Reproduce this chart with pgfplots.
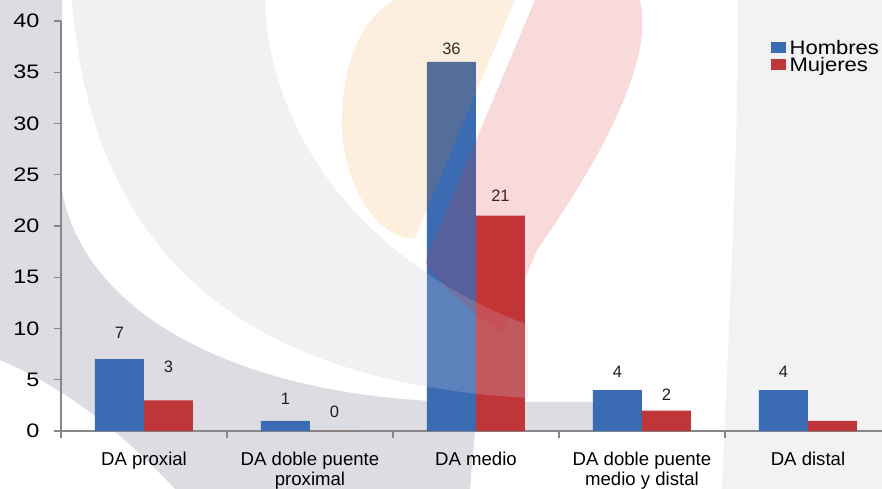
\documentclass[border=0pt]{standalone}
\usepackage{pgfplots}
\pgfplotsset{compat=1.18}
\usepackage{pgfplotstable}
\usepackage{fontspec}
\setmainfont{Liberation Sans}
\newfontfamily\tickfont{Liberation Sans}[FakeStretch=1.2]
\newfontfamily\legfont{Liberation Sans}[FakeStretch=1.13]

\definecolor{hblue}{HTML}{3A6BB3}
\definecolor{mred}{HTML}{BF3538}
\definecolor{axisgray}{HTML}{878787}
\definecolor{wmgray}{HTML}{DDDCE3}
\definecolor{wmlight}{HTML}{F2F2F5}
\definecolor{wmveil}{HTML}{C8C8D4}
\definecolor{wmorange}{HTML}{F1850C}
\definecolor{wmred}{HTML}{DA3030}

% x, value, label text, baseline offset of the label above the bar (pt)
\pgfplotstableread{
x y lab dy
0 7 7 21
1 1 1 16
2 36 36 7
3 4 4 12.5
4 4 4 12.5
}\hombres
\pgfplotstableread{
x y lab dy
0 3 3 28
1 0 0 13.5
2 21 21 14
3 2 2 10.5
4 1 {} 0
}\mujeres

\begin{document}
\begin{tikzpicture}
\useasboundingbox (-61pt,-58pt) rectangle (821pt,431pt);

% faint logo shapes in the background (pixel-like coordinates, y downwards)
\begin{scope}[shift={(-61pt,431pt)}, x=1pt, y=-1pt]
  \fill[wmlight] (738,0) -- (882,0) -- (882,489) -- (722,489) .. controls (730,300) and (738,150) .. (738,0) -- cycle;
  \fill[wmgray] (0,0) -- (62,0) -- (62,190) .. controls (85,320) and (250,398) .. (460,402)
        -- (640,402) -- (640,431) -- (475,431) -- (470,489) -- (175,489)
        .. controls (120,430) and (60,385) .. (0,360) -- cycle;
\end{scope}

\begin{axis}[
  at={(0pt,0pt)}, anchor=south west,
  scale only axis, width=821pt, height=410pt,
  xmin=-0.5, xmax=4.446, ymin=0, ymax=40,
  ybar=0pt, bar width=49pt,
  axis lines*=left,
  axis line style={draw=axisgray, line width=1.6pt},
  tick align=outside,
  major tick length=7pt,
  tick style={draw=axisgray, line width=1.2pt},
  xtick={-0.5,0.5,...,3.5},
  xticklabels={},
  extra x ticks={0,1,2,3,4},
  extra x tick labels={DA proxial, DA doble puente\\proximal, DA medio, DA doble puente\\medio y distal, DA distal},
  extra x tick style={major tick length=0pt,
    ticklabel style={font=\fontsize{18.6}{20}\selectfont, align=center, text=black, yshift=-17pt}},
  ytick={0,5,...,40},
  ytick pos=left,
  yticklabel style={font=\tickfont\fontsize{19.5}{19.5}\selectfont, text=black, xshift=-11pt},
  /pgf/number format/assume math mode=true,
  legend style={at={(0.861,0.965)}, anchor=north west, draw=none, fill=none,
    font=\legfont\fontsize{19.5}{15}\selectfont, row sep=0pt,
    nodes={inner sep=0.5pt, text height=16pt, text depth=0pt},
    /tikz/every odd column/.style={column sep=3pt}},
  legend cell align=left,
  legend image code/.code={\fill[#1] (0pt,-7pt) rectangle (15pt,4pt);},
]
\addplot[draw=none, fill=hblue,
  nodes near coords, point meta=explicit symbolic,
  visualization depends on={\thisrow{dy} \as \dy},
  every node near coord/.append style={anchor=base, inner sep=0pt, yshift=\dy pt,
    font=\fontsize{16.5}{16.5}\selectfont, text=black!88}]
  table[x=x, y=y, meta=lab] {\hombres};
\addplot[draw=none, fill=mred,
  nodes near coords, point meta=explicit symbolic,
  visualization depends on={\thisrow{dy} \as \dy},
  every node near coord/.append style={anchor=base, inner sep=0pt, yshift=\dy pt,
    font=\fontsize{16.5}{16.5}\selectfont, text=black!88}]
  table[x=x, y=y, meta=lab] {\mujeres};
\legend{Hombres, Mujeres}
\end{axis}

% translucent logo shapes laid over the plot
\begin{scope}[shift={(-61pt,431pt)}, x=1pt, y=-1pt]
  \fill[wmveil, opacity=0.25] (72,0) -- (265,0) .. controls (270,150) and (380,270) .. (528,325)
        -- (528,398) .. controls (300,385) and (95,300) .. (72,0) -- cycle;
  \fill[wmorange, opacity=0.14] (395,0) -- (515,0) -- (415,238)
        .. controls (380,240) and (345,190) .. (342,130)
        .. controls (340,60) and (365,15) .. (395,0) -- cycle;
  \fill[wmred, opacity=0.18] (535,0) -- (640,0) .. controls (655,60) and (600,160) .. (537,250)
        .. controls (520,290) and (510,320) .. (500,333)
        .. controls (470,310) and (440,285) .. (425,262) -- cycle;
\end{scope}
\end{tikzpicture}
\end{document}
